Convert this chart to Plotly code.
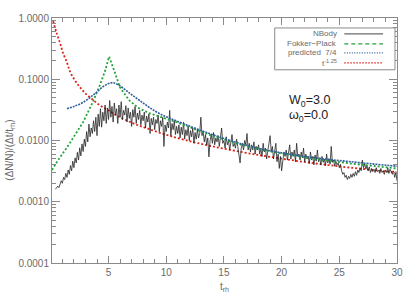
import plotly.graph_objects as go

# ---------------- data ----------------
# NBody curve, sampled every 0.1 t_rh from 0.4 to 30.0, values in units of 1e-3
NBODY_T0 = 0.4
NBODY_DT = 0.1
NBODY_1E3 = [
    1.6, 1.7, 1.8, 1.7, 1.9, 2.2,
    2.0, 2.5, 2.3, 2.9, 2.5, 3.3, 2.8, 3.9, 3.2, 4.6,
    3.6, 5.2, 4.3, 6.4, 4.8, 7.6, 5.6, 8.8, 6.6, 10.5,
    8.0, 14.0, 9.5, 18.5, 11.5, 16.0, 13.0, 21.0, 14.0, 24.0,
    12.0, 27.0, 17.0, 33.0, 16.5, 29.0, 21.0, 38.0, 19.0, 34.0,
    22.0, 45.0, 24.0, 36.0, 20.0, 41.0, 26.0, 33.0, 19.0, 38.0,
    24.0, 43.0, 22.0, 31.0, 26.0, 37.0, 20.0, 34.0, 23.0, 29.0,
    17.0, 32.0, 24.0, 36.0, 19.0, 28.0, 22.0, 31.0, 18.0, 26.0,
    21.0, 29.0, 16.0, 25.0, 20.0, 27.0, 13.0, 23.0, 18.0, 24.0,
    15.0, 22.0, 19.0, 26.0, 14.0, 21.0, 17.0, 24.0, 8.0, 18.0,
    14.0, 20.0, 16.0, 31.0, 12.0, 19.0, 15.0, 21.0, 12.5, 17.0,
    13.0, 18.0, 11.0, 16.5, 12.5, 20.0, 10.5, 15.0, 12.0, 17.0,
    10.0, 14.5, 11.5, 16.0, 9.0, 13.5, 10.5, 15.0, 11.0, 13.0,
    24.0, 12.0, 14.0, 9.5, 12.5, 8.5, 11.0, 5.4, 10.0, 12.5,
    9.0, 13.5, 8.5, 11.0, 9.5, 12.0, 8.0, 10.5, 16.0, 9.0,
    10.0, 7.5, 11.5, 8.5, 10.0, 7.0, 9.5, 12.5, 8.0, 9.0,
    7.5, 10.5, 8.0, 6.0, 4.3, 7.5, 9.0, 7.0, 10.0, 8.5,
    13.0, 7.0, 9.0, 6.5, 8.5, 7.0, 9.5, 6.0, 8.0, 7.0,
    8.5, 6.0, 7.5, 5.5, 9.0, 6.5, 7.5, 5.0, 7.0, 10.5,
    12.0, 6.5, 8.0, 5.0, 7.5, 9.0, 4.5, 6.0, 3.5, 5.5,
    3.2, 5.0, 6.5, 5.5, 7.0, 4.8, 6.0, 8.5, 5.0, 6.5,
    5.5, 7.0, 4.5, 9.0, 5.5, 6.0, 4.8, 6.5, 5.2, 7.5,
    4.5, 6.0, 5.0, 5.5, 4.2, 6.5, 4.8, 5.5, 4.0, 5.8,
    4.6, 7.0, 4.5, 5.2, 4.0, 5.5, 4.4, 5.0, 3.9, 6.0,
    4.3, 5.0, 4.1, 8.0, 4.4, 4.8, 3.8, 4.6, 4.0, 4.3,
    3.6, 4.1, 3.2, 2.8, 3.0, 2.5, 2.7, 2.3, 2.6, 2.4,
    2.8, 2.5, 2.9, 2.6, 3.1, 2.7, 3.3, 3.0, 3.6, 3.2,
    4.8, 3.6, 4.2, 3.4, 3.9, 3.2, 3.7, 3.0, 3.5, 3.1,
    3.4, 3.0, 3.6, 3.1, 3.3, 2.9, 3.5, 3.0, 3.2, 2.8,
    3.3, 3.0, 3.6, 2.9, 3.4, 3.1, 2.8, 3.2, 2.5, 3.0,
    2.2,
]

FP_T = [0.1, 0.6, 1.4, 1.9, 2.8, 3.6, 4.25, 4.7, 5.05, 5.5, 6.0, 6.8, 7.6,
        8.5, 9.5, 11.0, 13.9, 16.7, 19.0, 22.6, 26.0, 30.0]
FP_V = [0.0033, 0.0047, 0.0077, 0.011, 0.020, 0.041, 0.080, 0.137, 0.235,
        0.137, 0.073, 0.045, 0.034, 0.028, 0.024, 0.0196, 0.0121, 0.0083,
        0.0066, 0.0051, 0.0042, 0.0035]

PRED_T = [1.4, 2.0, 2.8, 3.6, 4.0, 4.5, 5.0, 5.4, 5.9, 6.5, 7.0, 7.7, 8.5,
          9.5, 11.0, 13.9, 16.7, 19.0, 22.6, 26.0, 30.0]
PRED_V = [0.033, 0.036, 0.042, 0.054, 0.062, 0.075, 0.085, 0.088, 0.080,
          0.066, 0.056, 0.045, 0.035, 0.027, 0.0205, 0.0127, 0.0086, 0.0068,
          0.0053, 0.0045, 0.0038]

POW_T = [0.2, 0.5, 0.8, 1.05, 1.4, 1.65, 2.05, 2.5, 2.95, 3.6, 4.25, 5.0,
         5.7, 7.1, 8.4, 10.0, 11.7, 13.9, 16.7, 19.0, 22.6, 26.0, 30.0]
POW_V = [0.89, 0.57, 0.39, 0.27, 0.187, 0.135, 0.098, 0.075, 0.060, 0.047,
         0.0375, 0.031, 0.0256, 0.0192, 0.0156, 0.0124, 0.0101, 0.0081,
         0.0064, 0.0054, 0.0043, 0.0036, 0.0030]

LEGEND_LABELS = ["NBody", "Fokker\u2212Plack", "predicted  7/4", "t<sup>-1.25</sup>"]
Y_TICKS = [1e-4, 1e-3, 1e-2, 1e-1, 1.0]
Y_TICKTEXT = ["0.0001", "0.0010", "0.0100", "0.1000", "1.0000"]

# ---------------- styling ----------------
GRAY = "#6a6a6a"
AXC = "#8a8a8a"
C_NB = "#262626"
C_FP = "#22a33a"
C_PR = "#2f5f9c"
C_PW = "#dd2418"
FONT = "Liberation Sans"

nb_t = [round(NBODY_T0 + NBODY_DT * i, 1) for i in range(len(NBODY_1E3))]
nb_v = [v * 1e-3 for v in NBODY_1E3]

fig = go.Figure()
fig.add_trace(go.Scatter(x=POW_T, y=POW_V, mode="lines", line_shape="spline",
                         line=dict(color=C_PW, width=1.8, dash="2px,2px")))
fig.add_trace(go.Scatter(x=nb_t, y=nb_v, mode="lines",
                         line=dict(color=C_NB, width=0.8)))
fig.add_trace(go.Scatter(x=FP_T, y=FP_V, mode="lines",
                         line=dict(color=C_FP, width=1.8, dash="2px,2px")))
fig.add_trace(go.Scatter(x=PRED_T, y=PRED_V, mode="lines", line_shape="spline",
                         line=dict(color=C_PR, width=1.6, dash="2px,1px")))

# plot area in px: x 52..399, y 17..263
L, R, T, B = 52, 399, 17, 263
W, H = R - L, B - T


def px(x):
    return (x - L) / W


def py(y):
    return (B - y) / H


shapes = [dict(type="rect", xref="paper", yref="paper",
               x0=px(276), x1=px(397), y0=py(69), y1=py(27),
               line=dict(color=AXC, width=1), fillcolor="white", layer="above")]
annotations = []
rows = [33, 43, 52, 62]
styles = [(GRAY, "solid"), (C_FP, "4px,3px"), (C_PR, "1px,1.5px"), (C_PW, "1.5px,1.5px")]
for lab, yy, (c, d) in zip(LEGEND_LABELS, rows, styles):
    annotations.append(dict(xref="paper", yref="paper", x=px(340), y=py(yy),
                            xanchor="right", yanchor="middle", text=lab,
                            showarrow=False, borderpad=0,
                            font=dict(family=FONT, size=8, color=GRAY)))
    shapes.append(dict(type="line", xref="paper", yref="paper",
                       x0=px(346), x1=px(385), y0=py(yy), y1=py(yy),
                       line=dict(color=c, width=1.2, dash=d), layer="above"))

annotations.append(dict(xref="paper", yref="paper", x=px(289), y=py(100),
                        xanchor="left", yanchor="middle", showarrow=False,
                        text="W<sub>0</sub>=3.0", borderpad=0,
                        font=dict(family=FONT, size=12.5, color="#222222")))
annotations.append(dict(xref="paper", yref="paper", x=px(289), y=py(115),
                        xanchor="left", yanchor="middle", showarrow=False,
                        text="\u03c9<sub>0</sub>=0.0", borderpad=0,
                        font=dict(family=FONT, size=12.5, color="#222222")))
annotations.append(dict(xref="paper", yref="paper", x=px(10), y=py(150),
                        xanchor="center", yanchor="middle", showarrow=False,
                        textangle=-90,
                        text="(\u0394N/N)/(\u0394t/t<sub>rh</sub>)",
                        font=dict(family=FONT, size=10, color=GRAY)))
annotations.append(dict(xref="paper", yref="paper", x=px(226), y=py(287),
                        xanchor="center", yanchor="middle", showarrow=False,
                        text="t<sub>rh</sub>",
                        font=dict(family=FONT, size=10, color=GRAY)))

fig.update_layout(
    width=415, height=297,
    margin=dict(l=L, r=415 - R, t=T, b=297 - B),
    paper_bgcolor="white", plot_bgcolor="white",
    showlegend=False,
    shapes=shapes, annotations=annotations,
    font=dict(family=FONT, size=10, color=GRAY),
    xaxis=dict(range=[0.1, 30], tickmode="linear", tick0=0, dtick=5,
               ticks="inside", ticklen=7, tickcolor=AXC, tickwidth=1,
               showline=True, linecolor=AXC, linewidth=1, mirror="ticks",
               showgrid=False, zeroline=False,
               tickfont=dict(family=FONT, size=10, color=GRAY),
               minor=dict(dtick=1, tick0=0, ticks="inside", ticklen=4,
                          tickcolor=AXC, showgrid=False)),
    yaxis=dict(type="log", range=[-4, 0], tickmode="array",
               tickvals=Y_TICKS, ticktext=Y_TICKTEXT,
               ticks="inside", ticklen=8, tickcolor=AXC, tickwidth=1,
               showline=True, linecolor=AXC, linewidth=1, mirror="ticks",
               showgrid=False, zeroline=False,
               tickfont=dict(family=FONT, size=10, color=GRAY),
               minor=dict(dtick="D1", ticks="inside", ticklen=4,
                          tickcolor=AXC, showgrid=False)),
)

fig.write_html("out.html", config={"displayModeBar": False},
               post_script="document.body.style.margin='0';document.body.style.padding='0';")
